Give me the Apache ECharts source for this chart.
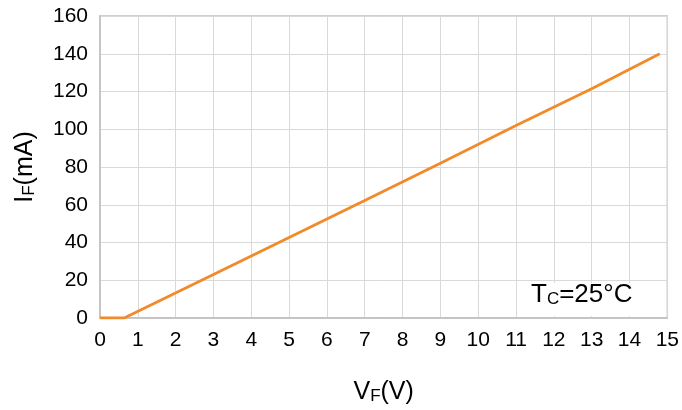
<!DOCTYPE html>
<html>
<head>
<meta charset="utf-8">
<script src="https://cdn.jsdelivr.net/npm/echarts@6/dist/echarts.min.js"></script>
<style>html,body{margin:0;padding:0;background:#fff}#c{width:682px;height:410px}</style>
</head>
<body>
<div id="c"></div>
<script>
const vf = [0, 0.64, 3, 5, 7, 9, 11, 13, 14.8];
const iF = [0, 0, 23, 42.7, 62.3, 82, 102, 121.5, 140];
const xTicks = [0,1,2,3,4,5,6,7,8,9,10,11,12,13,14,15];
const yTicks = [0,20,40,60,80,100,120,140,160];

const font = '"Liberation Sans", Arial, sans-serif';
const chart = echarts.init(document.getElementById('c'), null, {renderer: 'canvas'});
const richName = {
  m: {fontFamily: font, fontSize: 25, color: '#000'},
  s: {fontFamily: font, fontSize: 17, color: '#000', verticalAlign: 'bottom', padding: [9,0,0,0]}
};
chart.setOption({
  animation: false,
  backgroundColor: '#fff',
  grid: {left: 100, right: 14, top: 16, bottom: 91, show: true, borderColor: '#c0c0c0', borderWidth: 1.5},
  xAxis: {
    type: 'value', min: xTicks[0], max: xTicks[xTicks.length-1], interval: 1,
    name: '{m|V}{s|F}{m|(V)}', nameLocation: 'middle', nameGap: 61,
    nameTextStyle: {rich: richName},
    axisLine: {show: true, lineStyle: {color: '#c0c0c0', width: 1.5}},
    axisTick: {show: false},
    axisLabel: {fontFamily: font, fontSize: 21, color: '#000', margin: 12},
    splitLine: {show: true, lineStyle: {color: '#d9d9d9', width: 1}}
  },
  yAxis: {
    type: 'value', min: yTicks[0], max: yTicks[yTicks.length-1], interval: 20,
    name: '{m|I}{s|F}{m|(mA)}', nameLocation: 'middle', nameGap: 62, nameRotate: 90,
    nameTextStyle: {rich: richName},
    axisLine: {show: true, lineStyle: {color: '#c0c0c0', width: 1.5}},
    axisTick: {show: false},
    axisLabel: {fontFamily: font, fontSize: 21, color: '#000', margin: 12},
    splitLine: {show: true, lineStyle: {color: '#d9d9d9', width: 1}}
  },
  graphic: [{
    type: 'rect', shape: {x: 520, y: 283, width: 146, height: 33},
    style: {fill: '#fff'}, z: 1
  }, {
    type: 'text', left: 531, top: 282, z: 2,
    style: {
      text: '{m|T}{s|C}{m|=25°C}',
      rich: {m: {fontFamily: font, fontSize: 26, fill: '#000'}, s: {fontFamily: font, fontSize: 17, fill: '#000', verticalAlign: 'bottom', padding: [9,0,0,0]}}
    }
  }],
  series: [{
    type: 'line', data: vf.map((x,i)=>[x, iF[i]]), showSymbol: false, symbol: 'none',
    lineStyle: {color: '#F28A2A', width: 2.8}, z: 5
  }]
});
</script>
</body>
</html>
